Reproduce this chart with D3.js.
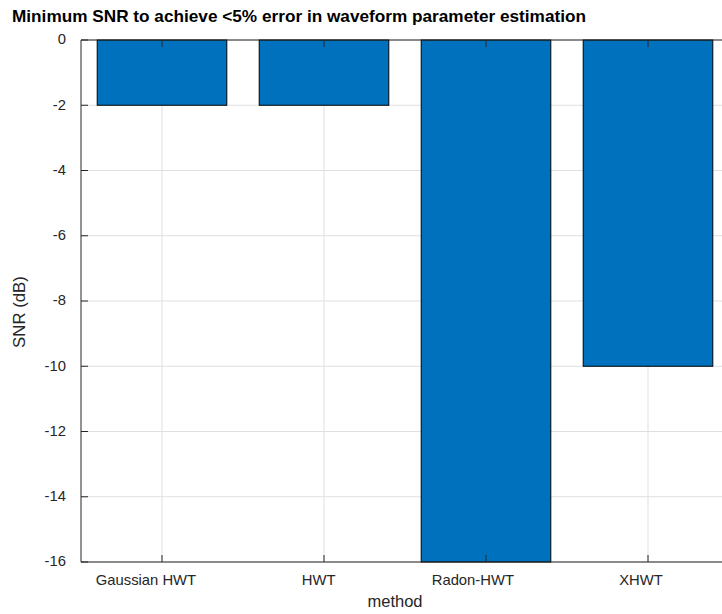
<!DOCTYPE html>
<html>
<head>
<meta charset="utf-8">
<script src="https://cdn.jsdelivr.net/npm/d3@7"></script>
<style>
  body { margin: 0; background: #fff; }
  svg { display: block; font-family: "Liberation Sans", Arial, sans-serif; }
  .tick-label { fill: #262626; font-size: 14.8px; }
</style>
</head>
<body>
<div id="chart"></div>
<script>
// ---- data ----
const methods = ["Gaussian HWT", "HWT", "Radon-HWT", "XHWT"];
const snrValues = [-2, -2, -16, -10];
const yTicks = [0, -2, -4, -6, -8, -10, -12, -14, -16];

const width = 722, height = 614;
const margin = { left: 81, top: 40 };
const innerWidth = 648;   // runs past the window edge, as in the reference
const innerHeight = 522;

const svg = d3.select("#chart")
    .append("svg")
    .attr("width", width)
    .attr("height", height);

const chart = svg.append("g")
    .attr("transform", `translate(${margin.left},${margin.top})`);

// ---- scales ----
const xScale = d3.scaleBand()
    .domain(methods)
    .range([0, innerWidth])
    .paddingInner(0.2)
    .paddingOuter(0.1);

const yScale = d3.scaleLinear()
    .domain([-16, 0])
    .range([innerHeight, 0]);

const xCenter = d => xScale(d) + xScale.bandwidth() / 2;

// ---- grid ----
chart.selectAll(".ygrid")
    .data(yTicks)
    .join("line")
    .attr("x1", 0).attr("x2", innerWidth)
    .attr("y1", d => yScale(d)).attr("y2", d => yScale(d))
    .attr("stroke", "#dfdfdf").attr("stroke-width", 1);

chart.selectAll(".xgrid")
    .data(methods)
    .join("line")
    .attr("x1", xCenter).attr("x2", xCenter)
    .attr("y1", 0).attr("y2", innerHeight)
    .attr("stroke", "#dfdfdf").attr("stroke-width", 1);

// ---- bars ----
chart.selectAll(".bar")
    .data(methods)
    .join("rect")
    .attr("class", "bar")
    .attr("x", d => xScale(d))
    .attr("width", xScale.bandwidth())
    .attr("y", yScale(0))
    .attr("height", (d, i) => yScale(snrValues[i]) - yScale(0))
    .attr("fill", "#0072BD")
    .attr("stroke", "#000")
    .attr("stroke-width", 1);

// ---- axes frame ----
const axisColor = "#262626";
chart.append("line")
    .attr("x1", 0).attr("x2", innerWidth).attr("y1", 0).attr("y2", 0)
    .attr("stroke", axisColor);
chart.append("line")
    .attr("x1", 0).attr("x2", innerWidth).attr("y1", innerHeight).attr("y2", innerHeight)
    .attr("stroke", axisColor);
chart.append("line")
    .attr("x1", 0).attr("x2", 0).attr("y1", 0).attr("y2", innerHeight)
    .attr("stroke", axisColor);

// ticks (inside)
chart.selectAll(".ytick")
    .data(yTicks)
    .join("line")
    .attr("x1", 0).attr("x2", 7)
    .attr("y1", d => yScale(d)).attr("y2", d => yScale(d))
    .attr("stroke", axisColor);

chart.selectAll(".xtick-b")
    .data(methods)
    .join("line")
    .attr("x1", xCenter).attr("x2", xCenter)
    .attr("y1", innerHeight).attr("y2", innerHeight - 7)
    .attr("stroke", axisColor);

chart.selectAll(".xtick-t")
    .data(methods)
    .join("line")
    .attr("x1", xCenter).attr("x2", xCenter)
    .attr("y1", 0).attr("y2", 7)
    .attr("stroke", axisColor);

// tick labels
chart.selectAll(".ylabel")
    .data(yTicks)
    .join("text")
    .attr("class", "tick-label")
    .attr("x", -15)
    .attr("y", d => yScale(d))
    .attr("dy", "0.3em")
    .attr("text-anchor", "end")
    .text(d => d);

// the reference labels sit a bit left of their ticks (wider font than expected)
chart.selectAll(".xlabel")
    .data(methods)
    .join("text")
    .attr("class", "tick-label")
    .attr("y", innerHeight + 23)
    .attr("text-anchor", "start")
    .text(d => d)
    .attr("x", function(d) {
        const w = this.getComputedTextLength();
        return xCenter(d) - w * 0.66;
    });

// ---- axis titles ----
svg.append("text")
    .attr("x", 395)
    .attr("y", 607)
    .attr("text-anchor", "middle")
    .attr("fill", axisColor)
    .style("font-size", "16.5px")
    .text("method");

svg.append("text")
    .attr("transform", `translate(25,312) rotate(-90)`)
    .attr("text-anchor", "middle")
    .attr("fill", axisColor)
    .style("font-size", "16.8px")
    .text("SNR (dB)");

svg.append("text")
    .attr("x", 12)
    .attr("y", 22)
    .attr("fill", "#000")
    .style("font-size", "16.5px")
    .style("font-weight", "bold")
    .attr("textLength", 574)
    .attr("lengthAdjust", "spacingAndGlyphs")
    .text("Minimum SNR to achieve <5% error in waveform parameter estimation");
</script>
</body>
</html>
